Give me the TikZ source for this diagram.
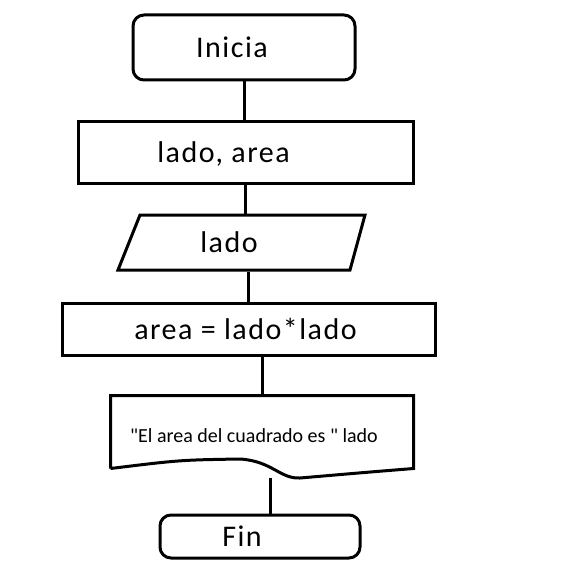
\documentclass[tikz,border=0pt]{standalone}
\usepackage{fontspec}
\setmainfont{Carlito}[LetterSpace=5]
\newfontfamily\notafont{Carlito}
\usetikzlibrary{positioning, calc}

\begin{document}
\begin{tikzpicture}[x=1pt, y=-1pt, line width=3pt,
    every label/.style={font=\fontsize{30}{33}\selectfont},
    caja/.style={draw, inner sep=0pt},
    terminal/.style={caja, rounded corners=11pt}]
    \useasboundingbox (0,0) rectangle (563,564);

    % bloques
    \node[terminal, minimum width=222pt, minimum height=65pt,
          label={[xshift=-12pt]center:Inicia}] (inicia) at (244,47.5) {};
    \node[caja, minimum width=335pt, minimum height=61pt,
          label={[xshift=-22pt, yshift=-2pt]center:lado, area}] (decl) at (245.5,152.5) {};
    \node[caja, draw=none, minimum width=247pt, minimum height=55pt,
          label={[xshift=-12pt]center:lado}] (leer) at (241,242.5) {};
    \node[caja, minimum width=373pt, minimum height=52pt,
          label={[xshift=-3pt]center:area = lado*lado}] (calc) at (248.5,329) {};
    \node[caja, draw=none, minimum width=300pt, minimum height=70pt,
          label={[xshift=-8pt, yshift=-4pt, font=\notafont\fontsize{20}{23}\selectfont]center:"El area del cuadrado es " lado}] (salida) at (262,432) {};
    \node[terminal, minimum width=200pt, minimum height=43pt,
          label={[xshift=-18pt]center:Fin}] (fin) at (260,536.5) {};

    % lectura (paralelogramo)
    \draw (140,215) -- (365,215) -- (350,270) -- (118,270) -- cycle;

    % documento con borde ondulado
    \coordinate (ola) at (270,478);
    \draw (salida.south west) -- (salida.north west) -- (salida.north east) -- (salida.south east)
        .. controls (370,472) .. (300,478)
        .. controls (280,479) and (272,461) .. (240,459)
        .. controls (180,460) .. (salida.south west);

    % conectores
    \draw (inicia.south) -- (inicia.south |- decl.north);
    \draw (decl.south) -- (decl.south |- leer.north);
    \draw (calc.north |- leer.south) -- (calc.north);
    \draw (salida.north |- calc.south) -- (salida.north);
    \draw (ola) -- (ola |- fin.north);
\end{tikzpicture}
\end{document}
